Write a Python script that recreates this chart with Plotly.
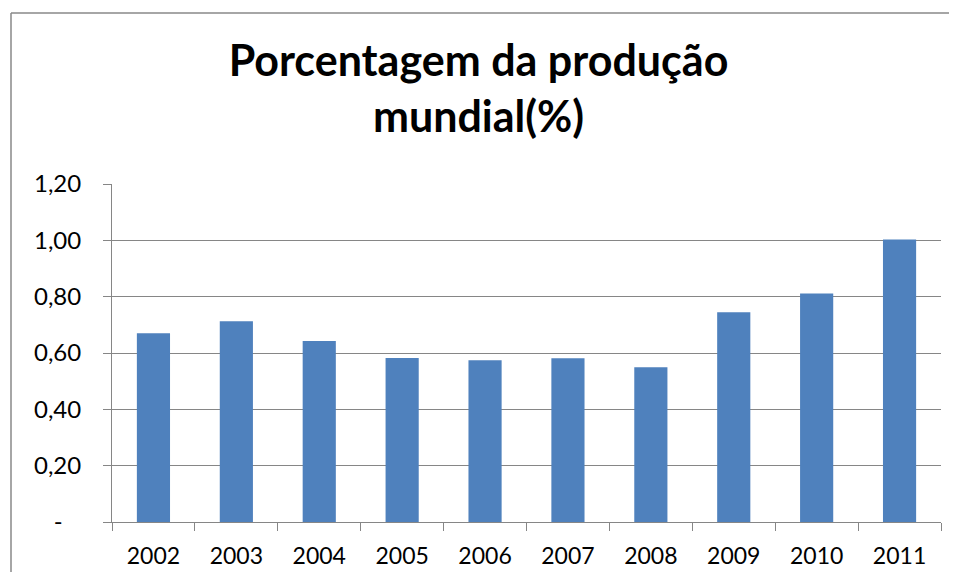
import plotly.graph_objects as go

years = ["2002", "2003", "2004", "2005", "2006", "2007", "2008", "2009", "2010", "2011"]
values = [0.67, 0.713, 0.643, 0.582, 0.574, 0.581, 0.549, 0.745, 0.811, 1.003]
tick_vals = [0, 0.2, 0.4, 0.6, 0.8, 1.0, 1.2]
tick_text = ["-\u00a0\u00a0\u00a0", "0,20", "0,40", "0,60", "0,80", "1,00", "1,20"]
title_text = "Porcentagem da produção<br>mundial(%)"

OFF = 8  # browser body margin
PAGE_W, PAGE_H = 957, 580
W, H = PAGE_W - 2 * OFF, PAGE_H - 2 * OFF
PL, PR, PT, PB = 112, 941, 184, 522
L = PL - OFF
T = PT - OFF
R = W - (PR - OFF)
B = H - (PB - OFF)
PW, PH = W - L - R, H - T - B

fig = go.Figure(go.Bar(x=years, y=values, marker=dict(color="#4F81BD", line=dict(width=0)),
                       width=0.4))

fx = lambda px: (px - OFF - L) / PW
fy = lambda py: (H - B - (py - OFF)) / PH

fig.update_layout(
    width=W, height=H,
    margin=dict(l=L, r=R, t=T, b=B, autoexpand=False),
    paper_bgcolor="white", plot_bgcolor="white",
    showlegend=False,
    font=dict(family="Lato", color="black"),
    title=dict(text="<b>" + title_text + "</b>", x=0.5, xanchor="center",
               y=1 - 68 / H, yanchor="top",
               font=dict(family="Lato", size=43, color="black")),
    xaxis=dict(type="category", showgrid=False, showline=True, linecolor="#868686", linewidth=1,
               ticks="outside", ticklen=8, tickcolor="#868686", tickson="boundaries",
               ticklabelstandoff=13, automargin=False,
               tickfont=dict(size=23), range=[-0.5, 9.5]),
    yaxis=dict(range=[0, 1.2], tickvals=tick_vals, ticktext=tick_text, showgrid=True,
               gridcolor="#868686", gridwidth=1, showline=True, linecolor="#868686", linewidth=1,
               ticks="outside", ticklen=8, tickcolor="#868686", tickfont=dict(size=24),
               ticklabelstandoff=17, automargin=False,
               zeroline=False),
    shapes=[
        dict(type="line", xref="paper", yref="paper",
             x0=fx(11), x1=fx(PAGE_W - OFF), y0=fy(13), y1=fy(13),
             line=dict(color="#888888", width=1.5)),
        dict(type="line", xref="paper", yref="paper",
             x0=fx(11), x1=fx(11), y0=fy(13), y1=fy(PAGE_H - OFF),
             line=dict(color="#888888", width=1.5)),
    ],
)

fig.write_html("out.html")
